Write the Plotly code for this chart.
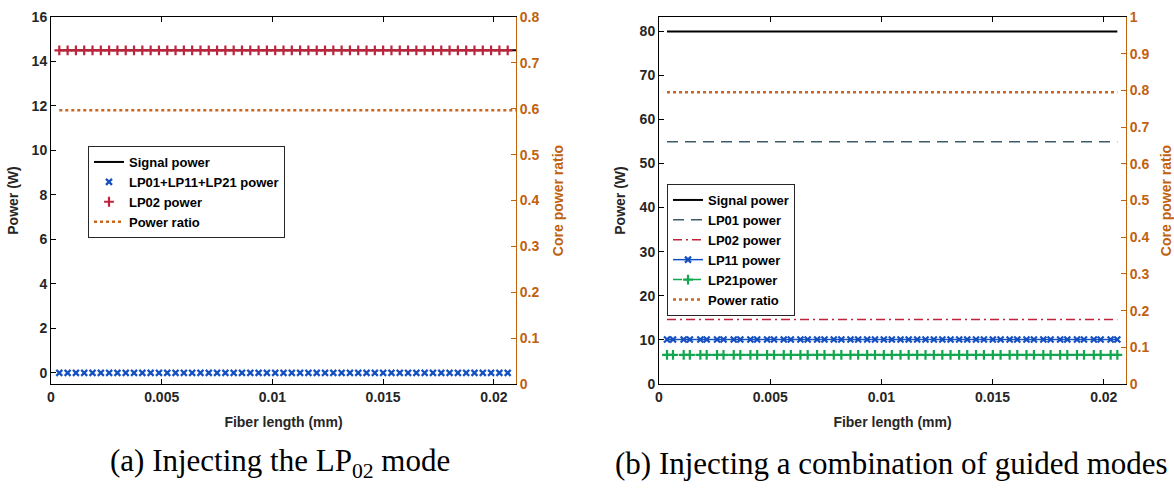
import numpy as np
import plotly.graph_objects as go

# ---------------- data ----------------
# (a) LP02 injected: fiber length samples (mm) and powers
fiber_len_a = np.linspace(0.000375, 0.021, 56)
signal_a = 14.5
lp02_a = 14.5
others_a = 0.0
ratio_a = 0.597

# (b) combination of guided modes: two interleaved sample sets (mm)
len_b_set1 = np.linspace(0.00036, 0.02061, 28)
len_b_set2 = np.linspace(0.00063, 0.02031, 27)
fiber_len_b = np.sort(np.concatenate([len_b_set1, len_b_set2]))
signal_b = 79.9
lp01_b = 54.9
lp02_b = 14.6
lp11_b = 10.1
lp21_b = 6.6
ratio_b = 0.795

x_ticks = [0, 0.005, 0.01, 0.015, 0.02]
x_tick_text = ["0", "0.005", "0.01", "0.015", "0.02"]

# ---------------- styles ----------------
FONT = "Liberation Sans"
TXT = "#262626"
ORANGE_AX = "#c0620e"
ORANGE = "#cc661c"
BLUE = "#1550c0"
RED = "#c0243c"
SLATE = "#3f5b6a"
GREEN = "#12a64e"

tick_font = dict(family=FONT, size=14, color=TXT, weight="bold")
title_font = dict(family=FONT, size=14, color=TXT, weight="bold")
otick_font = dict(family=FONT, size=14, color=ORANGE_AX, weight="bold")
otitle_font = dict(family=FONT, size=14, color=ORANGE_AX, weight="bold")

def const(v, n):
    return np.full(n, v)

fig = go.Figure()

na = len(fiber_len_a)
# ---- panel (a) ----
fig.add_trace(go.Scatter(x=fiber_len_a, y=const(signal_a, na), mode="lines",
                         line=dict(color="black", width=2), name="Signal power",
                         xaxis="x", yaxis="y", legend="legend"))
fig.add_trace(go.Scatter(x=fiber_len_a[:-1], y=const(others_a, na - 1), mode="markers",
                         marker=dict(symbol="x-thin", size=6, line=dict(color=BLUE, width=2.2)),
                         name="LP01+LP11+LP21 power", xaxis="x", yaxis="y", legend="legend"))
fig.add_trace(go.Scatter(x=fiber_len_a[:-1], y=const(lp02_a, na - 1), mode="markers",
                         marker=dict(symbol="cross-thin", size=7, line=dict(color=RED, width=2.2)),
                         name="LP02 power", xaxis="x", yaxis="y", legend="legend"))
fig.add_trace(go.Scatter(x=fiber_len_a, y=const(ratio_a, na), mode="lines",
                         line=dict(color=ORANGE, width=2.5, dash="dot"), name="Power ratio",
                         xaxis="x", yaxis="y2", legend="legend"))

nb = len(fiber_len_b)
# ---- panel (b) ----
fig.add_trace(go.Scatter(x=fiber_len_b, y=const(signal_b, nb), mode="lines",
                         line=dict(color="black", width=2), name="Signal power",
                         xaxis="x2", yaxis="y3", legend="legend2"))
fig.add_trace(go.Scatter(x=fiber_len_b, y=const(lp01_b, nb), mode="lines",
                         line=dict(color=SLATE, width=1.5, dash="11px,7px"), name="LP01 power",
                         xaxis="x2", yaxis="y3", legend="legend2"))
fig.add_trace(go.Scatter(x=fiber_len_b, y=const(lp02_b, nb), mode="lines",
                         line=dict(color=RED, width=1.5, dash="9px,4px,2px,4px"), name="LP02 power",
                         xaxis="x2", yaxis="y3", legend="legend2"))
fig.add_trace(go.Scatter(x=fiber_len_b, y=const(lp11_b, nb), mode="lines+markers",
                         line=dict(color=BLUE, width=1.5),
                         marker=dict(symbol="x-thin", size=6, line=dict(color=BLUE, width=2.2)),
                         name="LP11 power", xaxis="x2", yaxis="y3", legend="legend2"))
fig.add_trace(go.Scatter(x=fiber_len_b, y=const(lp21_b, nb), mode="lines+markers",
                         line=dict(color=GREEN, width=1.5, dash="9px,4px,2px,4px"),
                         marker=dict(symbol="cross-thin", size=7, line=dict(color=GREEN, width=2.2)),
                         name="LP21power", xaxis="x2", yaxis="y3", legend="legend2"))
fig.add_trace(go.Scatter(x=fiber_len_b, y=const(ratio_b, nb), mode="lines",
                         line=dict(color=ORANGE, width=2.5, dash="dot"), name="Power ratio",
                         xaxis="x2", yaxis="y4", legend="legend2"))

dom_a = [51 / 1174, 516 / 1174]
dom_b = [659 / 1174, 1126 / 1174]
dom_y = [1 - 384 / 489, 1 - 17 / 489]

xcommon = dict(range=[0, 0.021], tickvals=x_ticks, ticktext=x_tick_text,
               showline=True, linecolor="black", linewidth=1, mirror="ticks",
               ticks="inside", ticklen=5, tickcolor="black", showgrid=False, zeroline=False,
               automargin=False, tickfont=tick_font,
               title=dict(text="Fiber length (mm)", font=title_font, standoff=13))
ycommon = dict(showline=True, linecolor="black", linewidth=1, ticks="inside", ticklen=5,
               tickcolor="black", showgrid=False, zeroline=False, automargin=False,
               tickfont=tick_font)
ocommon = dict(showline=True, linecolor=ORANGE_AX, linewidth=1, ticks="inside", ticklen=5,
               tickcolor=ORANGE_AX, showgrid=False, zeroline=False, automargin=False,
               tickfont=otick_font, side="right")

legend_style = dict(bgcolor="white", bordercolor="#262626", borderwidth=1,
                    font=dict(family=FONT, size=13, color="black", weight="bold"),
                    xanchor="left", yanchor="top", tracegroupgap=0, itemwidth=30)

fig.update_layout(
    width=1174, height=489, margin=dict(l=0, r=0, t=0, b=0, autoexpand=False),
    paper_bgcolor="white", plot_bgcolor="white",
    xaxis=dict(domain=dom_a, anchor="y", **xcommon),
    yaxis=dict(domain=dom_y, anchor="x", range=[-0.5, 16], dtick=2, tick0=0,
               title=dict(text="Power (W)", font=title_font, standoff=9), **ycommon),
    yaxis2=dict(overlaying="y", anchor="x", range=[0, 0.8], dtick=0.1, tick0=0,
                title=dict(text="Core power ratio", font=otitle_font, standoff=14), **ocommon),
    xaxis2=dict(domain=dom_b, anchor="y3", **xcommon),
    yaxis3=dict(domain=dom_y, anchor="x2", range=[0, 83.2], dtick=10, tick0=0,
                title=dict(text="Power (W)", font=title_font, standoff=10), **ycommon),
    yaxis4=dict(overlaying="y3", anchor="x2", range=[0, 1], dtick=0.1, tick0=0,
                title=dict(text="Core power ratio", font=otitle_font, standoff=13), **ocommon),
    legend=dict(x=88 / 1174, y=1 - 146 / 489, **legend_style),
    legend2=dict(x=667 / 1174, y=1 - 184 / 489, **legend_style),
    showlegend=True,
)

cap_font = dict(family="Liberation Serif", size=31, color="black")
fig.add_annotation(text="(a) Injecting the LP<sub>02</sub> mode", x=280 / 1174, y=1 - 463 / 489,
                   xref="paper", yref="paper", showarrow=False, font=cap_font,
                   xanchor="center", yanchor="middle")
fig.add_annotation(text="(b) Injecting a combination of guided modes", x=891 / 1174, y=1 - 463 / 489,
                   xref="paper", yref="paper", showarrow=False, font=cap_font,
                   xanchor="center", yanchor="middle")

fig.write_html("out.html")
